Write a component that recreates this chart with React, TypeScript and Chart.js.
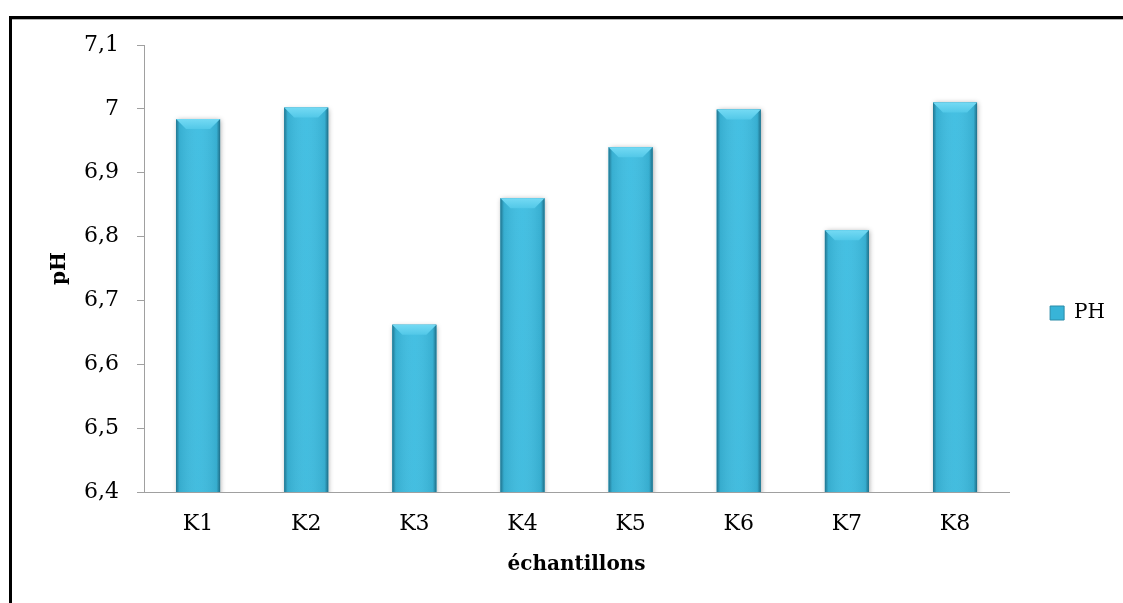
import { useEffect, useRef } from 'react';
import { Chart, registerables } from 'chart.js';

Chart.register(...registerables);

const categories = ['K1', 'K2', 'K3', 'K4', 'K5', 'K6', 'K7', 'K8'];
const phValues = [6.984, 7.002, 6.662, 6.86, 6.94, 6.999, 6.81, 7.01];
const seriesLabel = 'PH';
const yTickLabels = ['6,4', '6,5', '6,6', '6,7', '6,8', '6,9', '7', '7,1'];
const xTitle = 'échantillons';
const yTitle = 'pH';

const FONT = "'DejaVu Serif', serif";

const framePlugin = {
  id: 'frame',
  beforeDraw(chart: any) {
    const ctx = chart.ctx;
    ctx.save();
    ctx.fillStyle = '#ffffff';
    ctx.fillRect(0, 0, chart.width, chart.height);
    ctx.fillStyle = '#000000';
    ctx.fillRect(9, 16, chart.width - 9, 3);
    ctx.fillRect(9, 16, 3, chart.height - 16);
    ctx.fillStyle = '#b0b0b0';
    ctx.fillRect(12, 19, chart.width - 12, 1);
    ctx.restore();
  },
};

const bevelPlugin = {
  id: 'bevel',
  afterDatasetsDraw(chart: any) {
    const ctx = chart.ctx;
    const area = chart.chartArea;
    const meta = chart.getDatasetMeta(0);
    ctx.save();
    ctx.beginPath();
    ctx.rect(area.left, 0, area.right - area.left, area.bottom);
    ctx.clip();
    meta.data.forEach((el: any) => {
      const { x, y, base, width } = el.getProps(['x', 'y', 'base', 'width'], true);
      const l = x - width / 2;
      const r = x + width / 2;
      const t = y;
      const b = base;
      const h = b - t;
      ctx.save();
      ctx.shadowColor = 'rgba(0,0,0,0.35)';
      ctx.shadowBlur = 5;
      ctx.shadowOffsetX = 1;
      ctx.shadowOffsetY = 1;
      const vg = ctx.createLinearGradient(0, t, 0, b);
      vg.addColorStop(0, '#3DBDE1');
      vg.addColorStop(1, '#2D96B4');
      ctx.fillStyle = vg;
      ctx.fillRect(l, t, width, h);
      ctx.restore();
      const hg = ctx.createLinearGradient(l, 0, r, 0);
      hg.addColorStop(0, 'rgba(15,70,90,0.6)');
      hg.addColorStop(0.08, 'rgba(15,70,90,0.12)');
      hg.addColorStop(0.5, 'rgba(255,255,255,0.04)');
      hg.addColorStop(0.92, 'rgba(15,70,90,0.12)');
      hg.addColorStop(1, 'rgba(15,70,90,0.65)');
      ctx.fillStyle = hg;
      ctx.fillRect(l, t, width, h);
      const bv = Math.min(10, h / 2);
      const tg = ctx.createLinearGradient(0, t, 0, t + bv);
      tg.addColorStop(0, '#74DAF4');
      tg.addColorStop(1, '#52C8E8');
      ctx.beginPath();
      ctx.moveTo(l, t);
      ctx.lineTo(r, t);
      ctx.lineTo(r - bv, t + bv);
      ctx.lineTo(l + bv, t + bv);
      ctx.closePath();
      ctx.fillStyle = tg;
      ctx.fill();
      ctx.beginPath();
      ctx.moveTo(l + bv, b - bv);
      ctx.lineTo(r - bv, b - bv);
      ctx.lineTo(r, b);
      ctx.lineTo(l, b);
      ctx.closePath();
      ctx.fillStyle = 'rgba(20,80,100,0.22)';
      ctx.fill();
    });
    ctx.restore();
  },
};

export default function App() {
  const canvasRef = useRef<HTMLCanvasElement | null>(null);

  useEffect(() => {
    if (!canvasRef.current) return;
    const chart = new Chart(canvasRef.current, {
      type: 'bar',
      data: {
        labels: categories,
        datasets: [
          {
            label: seriesLabel,
            data: phValues,
            backgroundColor: '#36B0D3',
            borderColor: '#237C96',
            borderWidth: 0,
            barPercentage: 0.407,
            categoryPercentage: 1,
          },
        ],
      },
      options: {
        animation: false,
        responsive: true,
        maintainAspectRatio: false,
        layout: { padding: { top: 45, left: 0, right: 8, bottom: 22 } },
        plugins: {
          tooltip: { enabled: false },
          legend: {
            display: true,
            position: 'right',
            align: 'center',
            labels: {
              boxWidth: 14,
              boxHeight: 14,
              padding: 41,
              color: '#000000',
              font: { family: FONT, size: 20 },
              generateLabels: () => [
                {
                  text: seriesLabel,
                  fillStyle: '#38B4D8',
                  strokeStyle: '#2A8CA8',
                  lineWidth: 1,
                  hidden: false,
                  datasetIndex: 0,
                },
              ],
            },
          },
        },
        scales: {
          x: {
            grid: { display: false, drawTicks: false },
            border: { display: true, color: '#A0A0A0', width: 1 },
            ticks: {
              color: '#000000',
              font: { family: FONT, size: 22 },
              padding: 19,
              maxRotation: 0,
            },
            title: {
              display: true,
              text: xTitle,
              color: '#000000',
              font: { family: FONT, size: 20, weight: 'bold' },
              padding: { top: 0, bottom: 4 },
            },
            afterFit: (scale: any) => {
              scale.height = 89;
            },
          },
          y: {
            min: 6.4,
            max: 7.1,
            grid: {
              drawOnChartArea: false,
              drawTicks: true,
              tickLength: 7,
              color: '#A0A0A0',
            },
            border: { display: true, color: '#A0A0A0', width: 1 },
            ticks: {
              stepSize: 0.1,
              color: '#000000',
              font: { family: FONT, size: 22 },
              padding: 18,
              callback: (_v: any, i: number) => yTickLabels[i],
            },
            title: {
              display: true,
              text: yTitle,
              color: '#000000',
              font: { family: FONT, size: 20, weight: 'bold' },
              padding: { top: 48, bottom: 0 },
            },
            afterFit: (scale: any) => {
              scale.width = 144;
            },
          },
        },
      },
      plugins: [framePlugin, bevelPlugin],
    });
    return () => chart.destroy();
  }, []);

  return (
    <div style={{ position: 'fixed', left: 0, top: 0, width: 1123, height: 603, background: '#fff' }}>
      <canvas ref={canvasRef} />
    </div>
  );
}
